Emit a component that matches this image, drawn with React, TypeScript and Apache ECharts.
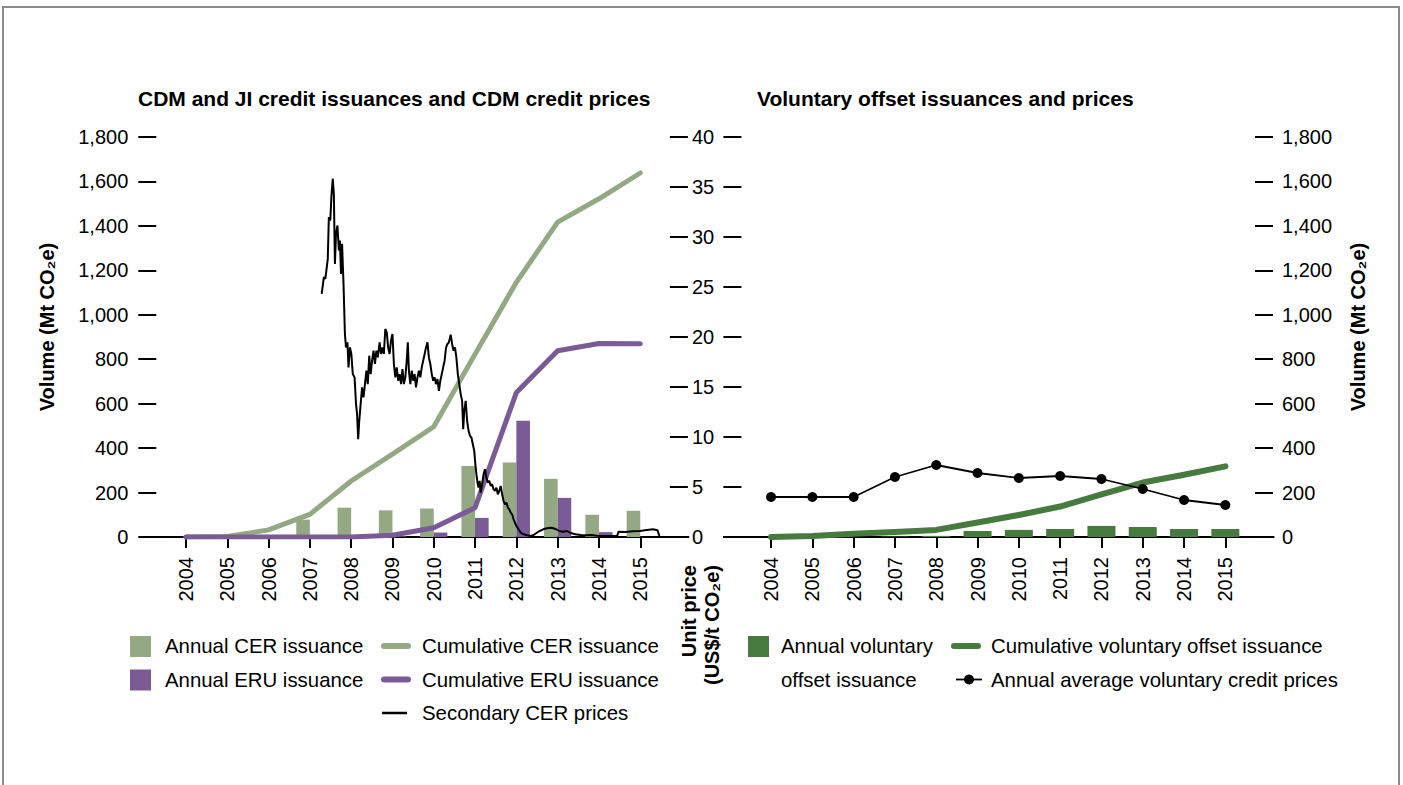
import React, { useEffect, useRef } from 'react';
import * as echarts from 'echarts';

// ---------- data ----------
const years = ['2004', '2005', '2006', '2007', '2008', '2009', '2010', '2011', '2012', '2013', '2014', '2015'];

const annualCER = [0, 0, 0, 78, 132, 120, 128, 320, 335, 262, 100, 118];
const annualERU = [0, 0, 0, 0, 0, 3, 20, 86, 523, 176, 22, 0];
const cumulativeCER = [0, 2, 32, 102, 252, 373, 496, 823, 1146, 1417, 1522, 1638];
const cumulativeERU = [0, 0, 0, 0, 0, 8, 42, 132, 650, 838, 871, 870];

// secondary CER price (position on the year axis, US$/t)
const cerPrice: [number, number][] = [
  [2007.287, 24.31], [2007.313, 25.14], [2007.339, 25.98], [2007.374, 25.81], [2007.4, 26.64],
  [2007.434, 27.81], [2007.46, 31.99], [2007.495, 31.65], [2007.521, 33.99], [2007.555, 35.83],
  [2007.581, 34.32], [2007.607, 27.31], [2007.633, 30.32], [2007.668, 31.15], [2007.702, 28.65],
  [2007.728, 29.65], [2007.754, 26.31], [2007.78, 29.32], [2007.815, 25.31], [2007.849, 20.3],
  [2007.875, 18.96], [2007.91, 19.47], [2007.936, 16.96], [2007.971, 18.96], [2008.005, 18.3],
  [2008.04, 16.29], [2008.083, 15.96], [2008.118, 13.29], [2008.144, 12.29], [2008.17, 9.78],
  [2008.196, 11.62], [2008.23, 13.29], [2008.265, 14.96], [2008.299, 13.96], [2008.334, 15.29],
  [2008.369, 16.63], [2008.403, 15.29], [2008.438, 18.13], [2008.472, 16.29], [2008.507, 17.63],
  [2008.542, 18.63], [2008.576, 17.3], [2008.611, 18.63], [2008.645, 17.96], [2008.689, 19.47],
  [2008.723, 18.3], [2008.758, 18.96], [2008.792, 18.3], [2008.827, 20.8], [2008.862, 20.47],
  [2008.896, 18.96], [2008.931, 18.3], [2008.965, 19.63], [2009.0, 20.3], [2009.035, 17.3],
  [2009.069, 15.96], [2009.104, 16.96], [2009.138, 15.63], [2009.173, 16.29], [2009.208, 15.29],
  [2009.242, 16.79], [2009.277, 15.29], [2009.311, 15.96], [2009.346, 17.63], [2009.372, 19.47],
  [2009.398, 16.63], [2009.433, 15.29], [2009.467, 16.63], [2009.502, 15.63], [2009.536, 16.29],
  [2009.571, 14.96], [2009.606, 15.96], [2009.64, 16.63], [2009.675, 15.96], [2009.709, 16.96],
  [2009.744, 17.63], [2009.779, 18.3], [2009.813, 18.96], [2009.848, 19.47], [2009.882, 17.96],
  [2009.917, 17.3], [2009.952, 16.29], [2009.986, 15.63], [2010.021, 15.96], [2010.055, 15.29],
  [2010.09, 15.79], [2010.125, 14.62], [2010.159, 15.63], [2010.194, 16.29], [2010.228, 16.96],
  [2010.263, 17.63], [2010.298, 18.96], [2010.332, 19.3], [2010.367, 19.47], [2010.41, 20.23],
  [2010.445, 19.3], [2010.479, 18.63], [2010.514, 18.96], [2010.548, 17.96], [2010.583, 16.29],
  [2010.618, 15.29], [2010.652, 14.29], [2010.687, 13.62], [2010.713, 10.78], [2010.739, 12.62],
  [2010.773, 13.62], [2010.808, 11.62], [2010.843, 10.62], [2010.877, 10.12], [2010.912, 9.95],
  [2010.946, 9.28], [2010.981, 8.61], [2011.007, 7.28], [2011.033, 6.28], [2011.059, 5.44],
  [2011.085, 4.94], [2011.111, 5.61], [2011.137, 4.44], [2011.171, 5.28], [2011.206, 6.28],
  [2011.24, 6.78], [2011.275, 5.94], [2011.31, 5.44], [2011.344, 5.61], [2011.379, 5.11],
  [2011.413, 5.28], [2011.448, 4.77], [2011.483, 4.61], [2011.517, 4.94], [2011.552, 4.27],
  [2011.587, 4.61], [2011.621, 5.11], [2011.656, 4.27], [2011.69, 3.61], [2011.725, 3.27],
  [2011.76, 3.44], [2011.794, 2.94], [2011.829, 2.77], [2011.863, 2.44], [2011.898, 2.27],
  [2011.933, 1.77], [2011.967, 1.44], [2012.002, 1.1], [2012.054, 0.77], [2012.106, 0.43],
  [2012.175, 0.27], [2012.261, 0.17], [2012.348, 0.1], [2012.417, 0.2], [2012.486, 0.4],
  [2012.564, 0.6], [2012.651, 0.77], [2012.737, 0.87], [2012.85, 0.93], [2012.953, 0.8],
  [2013.04, 0.6], [2013.126, 0.53], [2013.23, 0.6], [2013.317, 0.4], [2013.429, 0.27],
  [2013.559, 0.2], [2013.689, 0.17], [2013.818, 0.2], [2013.948, 0.13], [2014.078, 0.1],
  [2014.251, 0.1], [2014.441, 0.13], [2014.476, 0.53], [2014.64, 0.5], [2014.813, 0.57],
  [2014.986, 0.6], [2015.159, 0.7], [2015.306, 0.77], [2015.419, 0.67], [2015.462, 0.1],
];

const annualVoluntary = [0, 0, 0, 2, 5, 27, 32, 36, 50, 45, 36, 36];
const cumulativeVoluntary = [0, 5, 15, 22, 32, 65, 99, 137, 192, 245, 280, 318];
const voluntaryPrice = [4.0, 4.0, 4.0, 6.0, 7.2, 6.4, 5.9, 6.1, 5.8, 4.8, 3.7, 3.2];

const volumeAxis = { min: 0, max: 1800, interval: 200 };
const priceAxis = { min: 0, max: 40, interval: 5 };

// ---------- style ----------
const FONT = "'Liberation Sans', Arial, Helvetica, sans-serif";
const GREEN = '#93a883';
const PURPLE = '#7b5b95';
const DARK_GREEN = '#477a3f';
const BLACK = '#000000';

const BAND = 41.3;
const GRID_TOP = 137;
const GRID_H = 400;
const G0_LEFT = 165.3;
const G1_LEFT = 750.4;
const GRID_W = BAND * years.length;
const BASE_Y = GRID_TOP + GRID_H;

const FS = 20;
const LEGEND_FS = 20.4;
const TITLE_FS = 21;

export default function App() {
  const ref = useRef<HTMLDivElement>(null);

  useEffect(() => {
    document.body.style.margin = '0';
    if (!ref.current) return;
    const chart = echarts.init(ref.current, null, { renderer: 'svg' });

    const tickStyle = { color: BLACK, width: 2 };
    const catAxis = (gridIndex: number) => ({
      type: 'category',
      gridIndex,
      data: years,
      boundaryGap: true,
      axisLine: { show: false },
      axisTick: { show: true, alignWithLabel: true, length: 11, interval: 0, lineStyle: tickStyle },
      axisLabel: { rotate: 90, margin: 20, interval: 0, fontSize: FS, color: BLACK, fontFamily: FONT },
      splitLine: { show: false },
    });
    const valAxis = (gridIndex: number, position: string, range: any, showLabel: boolean, margin: number, comma: boolean) => ({
      type: 'value',
      gridIndex,
      position,
      offset: 9,
      min: range.min,
      max: range.max,
      interval: range.interval,
      axisLine: { show: false },
      axisTick: { show: true, length: 18, lineStyle: tickStyle },
      splitLine: { show: false },
      axisLabel: {
        show: showLabel,
        margin,
        fontSize: FS,
        color: BLACK,
        fontFamily: FONT,
        formatter: (v: number) => (comma ? v.toLocaleString('en-US') : String(v)),
      },
    });

    const txt = (x: number, y: number, text: string, extra: any = {}) => ({
      type: 'text',
      x,
      y,
      z: 10,
      style: {
        text,
        fill: BLACK,
        font: `${extra.weight || 'normal'} ${extra.size || LEGEND_FS}px ${FONT}`,
        textAlign: extra.align || 'left',
        textVerticalAlign: extra.valign || 'middle',
        lineHeight: extra.lineHeight,
      },
      rotation: extra.rotation || 0,
    });
    const square = (x: number, yc: number, color: string) => ({
      type: 'rect', shape: { x, y: yc - 10, width: 21, height: 21 }, style: { fill: color }, z: 10,
    });
    const pill = (x: number, yc: number, color: string) => ({
      type: 'line', shape: { x1: x + 3, y1: yc, x2: x + 27, y2: yc }, style: { stroke: color, lineWidth: 6, lineCap: 'round' }, z: 10,
    });
    const thin = (x: number, yc: number) => ({
      type: 'line', shape: { x1: x, y1: yc, x2: x + 25, y2: yc }, style: { stroke: BLACK, lineWidth: 2.5 }, z: 10,
    });

    const rowY = [646, 679.5, 713];

    const option: any = {
      animation: false,
      backgroundColor: '#ffffff',
      grid: [
        { left: G0_LEFT, top: GRID_TOP, width: GRID_W, height: GRID_H },
        { left: G1_LEFT, top: GRID_TOP, width: GRID_W, height: GRID_H },
      ],
      xAxis: [
        catAxis(0),
        { type: 'value', gridIndex: 0, min: 2003.5, max: 2015.5, show: false },
        catAxis(1),
      ],
      yAxis: [
        valAxis(0, 'left', volumeAxis, true, 28, true),
        valAxis(0, 'right', priceAxis, true, 22, false),
        valAxis(1, 'left', priceAxis, false, 22, false),
        valAxis(1, 'right', volumeAxis, true, 27, true),
      ],
      series: [
        {
          name: 'Annual CER issuance', type: 'bar', xAxisIndex: 0, yAxisIndex: 0,
          data: annualCER, barWidth: 13.6, barGap: '0%', itemStyle: { color: GREEN }, z: 2,
        },
        {
          name: 'Annual ERU issuance', type: 'bar', xAxisIndex: 0, yAxisIndex: 0,
          data: annualERU, barWidth: 13.6, barGap: '0%', itemStyle: { color: PURPLE }, z: 2,
        },
        {
          name: 'Cumulative CER issuance', type: 'line', xAxisIndex: 0, yAxisIndex: 0,
          data: cumulativeCER, symbol: 'none', z: 3,
          lineStyle: { color: GREEN, width: 5, cap: 'round', join: 'round' }, itemStyle: { color: GREEN },
        },
        {
          name: 'Cumulative ERU issuance', type: 'line', xAxisIndex: 0, yAxisIndex: 0,
          data: cumulativeERU, symbol: 'none', z: 3,
          lineStyle: { color: PURPLE, width: 5, cap: 'round', join: 'round' }, itemStyle: { color: PURPLE },
        },
        {
          name: 'Secondary CER prices', type: 'line', xAxisIndex: 1, yAxisIndex: 1,
          data: cerPrice, symbol: 'none', z: 4,
          lineStyle: { color: BLACK, width: 2 }, itemStyle: { color: BLACK },
        },
        {
          name: 'Annual voluntary offset issuance', type: 'bar', xAxisIndex: 2, yAxisIndex: 3,
          data: annualVoluntary, barWidth: 28, itemStyle: { color: DARK_GREEN }, z: 2,
        },
        {
          name: 'Cumulative voluntary offset issuance', type: 'line', xAxisIndex: 2, yAxisIndex: 3,
          data: cumulativeVoluntary, symbol: 'none', z: 3,
          lineStyle: { color: DARK_GREEN, width: 6, cap: 'round', join: 'round' }, itemStyle: { color: DARK_GREEN },
        },
        {
          name: 'Annual average voluntary credit prices', type: 'line', xAxisIndex: 2, yAxisIndex: 2,
          data: voluntaryPrice, symbol: 'circle', symbolSize: 10, z: 4,
          lineStyle: { color: BLACK, width: 1.8 }, itemStyle: { color: BLACK },
        },
      ],
      graphic: [
        { type: 'rect', shape: { x: 3, y: 7, width: 1396, height: 820 }, style: { fill: 'none', stroke: '#8a8a8a', lineWidth: 2 }, z: 0 },
        { type: 'line', shape: { x1: G0_LEFT - 26.3, y1: BASE_Y, x2: G0_LEFT + GRID_W + 28.3, y2: BASE_Y }, style: { stroke: BLACK, lineWidth: 2 }, z: 1 },
        { type: 'line', shape: { x1: G1_LEFT - 27.4, y1: BASE_Y, x2: G1_LEFT + GRID_W + 28.4, y2: BASE_Y }, style: { stroke: BLACK, lineWidth: 2 }, z: 1 },
        txt(138, 98, 'CDM and JI credit issuances and CDM credit prices', { weight: 'bold', size: TITLE_FS }),
        txt(757, 98, 'Voluntary offset issuances and prices', { weight: 'bold', size: TITLE_FS }),
        txt(47, 327, 'Volume (Mt CO₂e)', { weight: 'bold', size: FS, align: 'center', rotation: Math.PI / 2 }),
        txt(1358, 327, 'Volume (Mt CO₂e)', { weight: 'bold', size: FS, align: 'center', rotation: Math.PI / 2 }),
        txt(677, 565, 'Unit price\n(US$/t CO₂e)', { weight: 'bold', size: FS, align: 'right', valign: 'top', rotation: Math.PI / 2, lineHeight: 23 }),
        // left legend
        square(130, rowY[0], GREEN),
        txt(165, rowY[0], 'Annual CER issuance'),
        square(130, rowY[1], PURPLE),
        txt(165, rowY[1], 'Annual ERU issuance'),
        pill(381, rowY[0], GREEN),
        txt(422, rowY[0], 'Cumulative CER issuance'),
        pill(381, rowY[1], PURPLE),
        txt(422, rowY[1], 'Cumulative ERU issuance'),
        thin(382, rowY[2]),
        txt(422, rowY[2], 'Secondary CER prices'),
        // right legend
        square(748, rowY[0], DARK_GREEN),
        txt(781, rowY[0], 'Annual voluntary'),
        txt(781, rowY[1], 'offset issuance'),
        pill(951, rowY[0], DARK_GREEN),
        txt(991, rowY[0], 'Cumulative voluntary offset issuance'),
        { type: 'line', shape: { x1: 956, y1: rowY[1], x2: 982, y2: rowY[1] }, style: { stroke: BLACK, lineWidth: 1.8 }, z: 10 },
        { type: 'circle', shape: { cx: 969, cy: rowY[1], r: 5 }, style: { fill: BLACK }, z: 10 },
        txt(991, rowY[1], 'Annual average voluntary credit prices'),
      ],
    };

    chart.setOption(option);
    return () => chart.dispose();
  }, []);

  return <div ref={ref} style={{ width: 1403, height: 785 }} />;
}
